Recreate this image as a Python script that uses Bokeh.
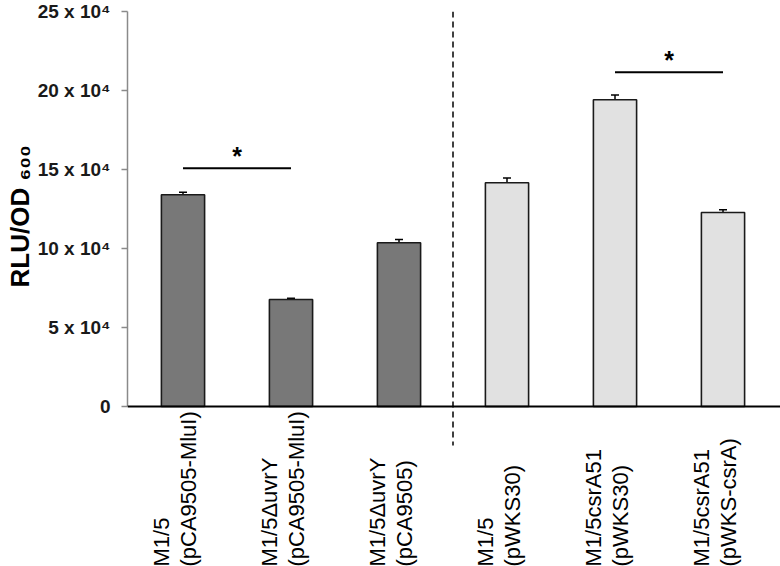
import numpy as np
from bokeh.plotting import figure
from bokeh.models import Range1d, FixedTicker, Span, Whisker, ColumnDataSource, TeeHead, Title
from bokeh.core.properties import value
from bokeh.embed import file_html
from bokeh.resources import INLINE

# ---- data ----
label_line1 = ["M1/5", "M1/5\u0394uvrY", "M1/5\u0394uvrY", "M1/5", "M1/5csrA51", "M1/5csrA51"]
label_line2 = ["(pCA9505-MluI)", "(pCA9505-MluI)", "(pCA9505)", "(pWKS30)", "(pWKS30)", "(pWKS-csrA)"]
values = [13.40e4, 6.77e4, 10.36e4, 14.16e4, 19.41e4, 12.28e4]
errors = [0.16e4, 0.08e4, 0.21e4, 0.30e4, 0.30e4, 0.17e4]
group = ["A", "A", "A", "B", "B", "B"]
sig_from = [1, 5]
sig_to = [2, 6]
sig_level = [15.08e4, 21.16e4]
sig_mark = ["*", "*"]
y_ticks = [0, 50000, 100000, 150000, 200000, 250000]
y_tick_labels = ["0", "5 x 10\u2074", "10 x 10\u2074", "15 x 10\u2074", "20 x 10\u2074", "25 x 10\u2074"]
y_title = "RLU/OD \u2086\u2080\u2080"
separator_after = 3

# ---- layout constants (pixels) ----
W, H = 780, 566
frame_left_px = 127
top_px = 11            # px of y = 25e4
zero_px = 406          # px of y = 0
first_center_px = 182.5
cat_px = 108.0
ymax = 250000
ppu = (zero_px - top_px) / ymax


def ydata(px):
    return (zero_px - px) / ppu


def xdata(px):
    return 1 + (px - first_center_px) / cat_px


ymin = ydata(H)
colors = {"A": "#787878", "B": "#e1e1e1"}

x = np.arange(1, len(values) + 1)
src = ColumnDataSource(dict(
    x=x, top=values, color=[colors[g] for g in group],
    upper=np.array(values) + np.array(errors),
    lower=np.array(values) - np.array(errors),
    label=[a + "\n" + b for a, b in zip(label_line1, label_line2)],
))

p = figure(width=W, height=H, output_backend="svg", toolbar_location=None,
           x_range=Range1d(xdata(frame_left_px), xdata(W)), y_range=Range1d(ymin, ymax),
           x_axis_location=None, min_border_left=frame_left_px, min_border_right=0,
           min_border_top=top_px, min_border_bottom=0)
p.outline_line_color = None
p.xgrid.visible = False
p.ygrid.visible = False
p.background_fill_color = "white"
p.border_fill_color = "white"

p.vbar(x="x", top="top", bottom=0, width=0.4, fill_color="color",
       line_color="#1a1a1a", line_width=1.6, source=src)

p.add_layout(Whisker(base="x", upper="upper", lower="lower", source=src,
                     line_color="black", line_width=1.5,
                     upper_head=TeeHead(size=8, line_color="black", line_width=1.5),
                     lower_head=TeeHead(size=8, line_color="black", line_width=1.5)))

# x axis baseline
p.add_layout(Span(location=0, dimension="width", line_color="black", line_width=2))

# separator
p.segment(x0=[separator_after + 0.5], x1=[separator_after + 0.5], y0=[ymax], y1=[ydata(445)],
          line_color="black", line_width=1.5, line_dash="6 4")

# significance
p.segment(x0=sig_from, x1=sig_to, y0=sig_level, y1=sig_level, line_color="black", line_width=2)
p.text(x=[(a + b) / 2 for a, b in zip(sig_from, sig_to)], y=sig_level, text=sig_mark,
       text_font=value("Liberation Sans"), text_font_style="bold", text_font_size="25px",
       text_align="center", text_baseline="alphabetic", text_color="black", y_offset=-12)

# category labels (rotated)
p.text(x="x", y=ydata(566), text="label", source=src, angle=np.pi / 2,
       text_align="left", text_baseline="middle", x_offset=-8,
       text_font=value("Liberation Sans"), text_font_size="22px", text_color="black",
       text_line_height=1.05)

ax = p.yaxis[0]
ax.ticker = FixedTicker(ticks=y_ticks)
ax.major_label_overrides = {t: l for t, l in zip(y_ticks, y_tick_labels)}
ax.bounds = (0, ymax)
ax.axis_line_color = "#8a8a8a"
ax.axis_line_width = 1.5
ax.major_tick_line_color = "#8a8a8a"
ax.major_tick_line_width = 1.5
ax.major_tick_out = 6
ax.major_tick_in = 0
ax.minor_tick_line_color = None
ax.major_label_text_font = "Liberation Sans"
ax.major_label_text_font_style = "bold"
ax.major_label_text_font_size = "19px"
ax.major_label_text_color = "#1a1a1a"
ax.major_label_standoff = 11

p.add_layout(Title(text=y_title, align="left", offset=H - 287, standoff=0,
                   text_font="Liberation Sans", text_font_style="bold",
                   text_font_size="26px", text_color="black"), "left")

open("out.html", "w").write(file_html(p, INLINE))
